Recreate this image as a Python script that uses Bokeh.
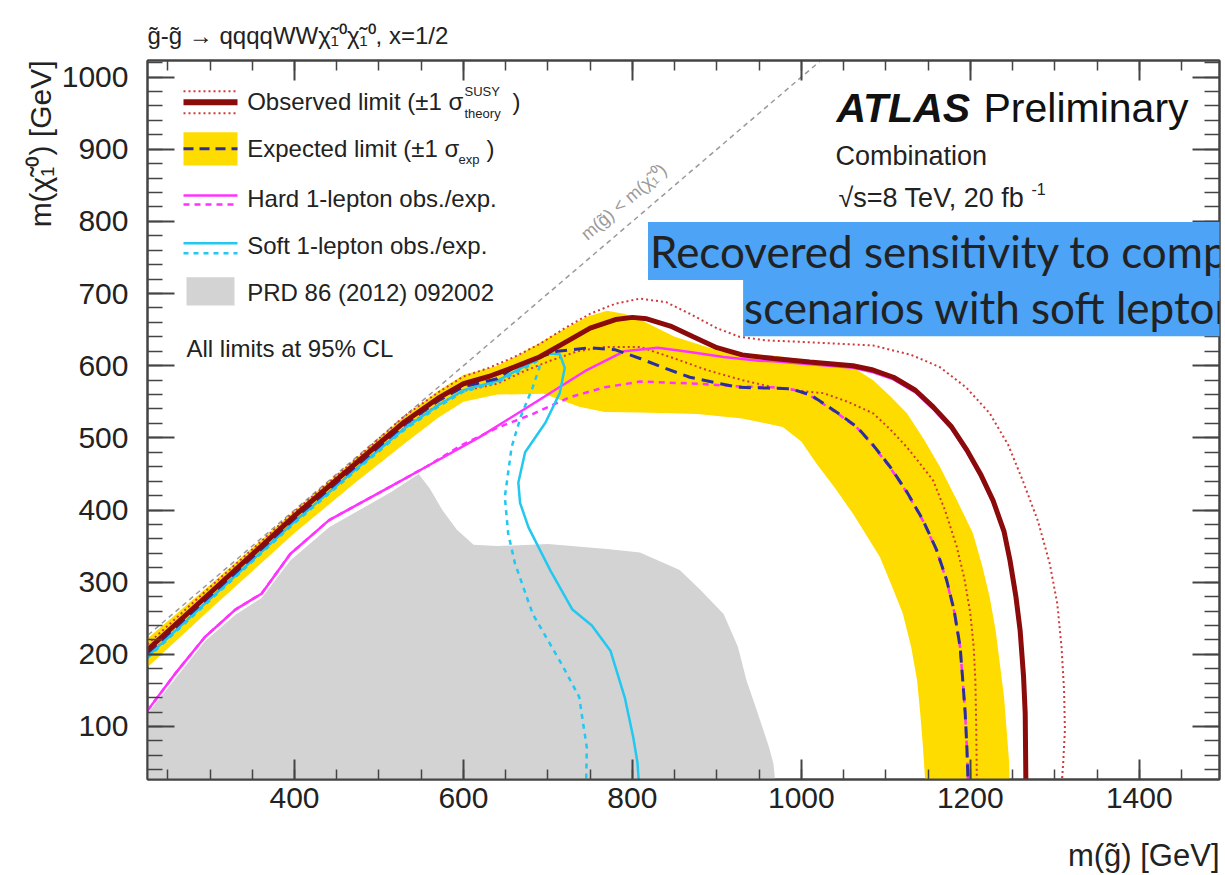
import math
from bokeh.plotting import figure
from bokeh.models import Range1d, SingleIntervalTicker, LinearAxis, Label, Title
from bokeh.embed import file_html
from bokeh.resources import INLINE

# ---------------- data (GeV) ----------------
obs_x = [226, 300, 400, 470, 530, 570, 600, 630, 660, 690, 720, 750, 780, 800, 817, 845, 872, 900, 930, 967,
         1010, 1061, 1085, 1109, 1135, 1156, 1178, 1196, 1212, 1227, 1240, 1247, 1254, 1259, 1263, 1265, 1266]
obs_y = [206, 285, 392, 462, 522, 555, 575, 585, 598, 612, 632, 652, 664, 667, 665, 655, 640, 625, 615, 610,
         605, 600, 594, 584, 566, 543, 515, 483, 450, 413, 370, 330, 280, 233, 170, 118, 0]

th_up_x = [226, 300, 400, 470, 530, 570, 600, 630, 660, 690, 720, 750, 780, 809, 840, 868, 900, 927, 959, 1000,
           1085, 1130, 1164, 1195, 1223, 1245, 1262, 1280, 1294, 1303, 1308, 1311, 1312, 1310, 1307]
th_up_y = [214, 293, 398, 468, 530, 563, 585, 597, 612, 630, 652, 672, 686, 693, 688, 672, 652, 640, 635, 633,
           628, 615, 598, 570, 534, 490, 441, 385, 326, 270, 210, 150, 95, 50, 0]

th_dn_x = [226, 300, 400, 470, 530, 570, 600, 640, 671, 703, 735, 767, 809, 850, 888, 930, 967, 1000, 1026, 1055,
           1085, 1105, 1125, 1140, 1156, 1170, 1184, 1193, 1200, 1204, 1206, 1207, 1208]
th_dn_y = [198, 277, 384, 454, 514, 546, 565, 575, 592, 607, 620, 626, 626, 610, 594, 580, 570, 565, 562, 550,
           534, 512, 487, 465, 441, 400, 349, 305, 257, 210, 164, 100, 0]

exp_x = [226, 300, 400, 470, 530, 570, 600, 640, 663, 690, 711, 750, 780, 809, 840, 868, 900, 927, 960, 987,
         1010, 1026, 1045, 1066, 1085, 1105, 1125, 1144, 1160, 1172, 1181, 1188, 1191, 1194, 1196, 1198]
exp_y = [202, 281, 388, 458, 518, 551, 571, 582, 600, 612, 620, 625, 622, 610, 596, 584, 576, 570, 569, 568,
         560, 548, 533, 515, 490, 460, 425, 386, 345, 303, 260, 210, 165, 118, 70, 0]

band_hi_x = [226, 300, 400, 470, 530, 570, 600, 640, 665, 703, 746, 770, 790, 809, 850, 907, 966, 1020, 1061, 1085,
             1105, 1125, 1145, 1164, 1184, 1203, 1214, 1223, 1230, 1235, 1240, 1243, 1246, 1247]
band_hi_y = [222, 296, 399, 469, 530, 565, 587, 600, 615, 640, 668, 676, 672, 664, 640, 619, 614, 606, 598, 580,
             558, 534, 498, 460, 414, 368, 323, 279, 233, 187, 140, 95, 50, 0]

band_lo_x = [226, 300, 400, 470, 530, 570, 600, 640, 695, 737, 767, 809, 877, 930, 978, 1000, 1018, 1040, 1061, 1077,
             1093, 1107, 1120, 1130, 1137, 1141, 1144, 1148]
band_lo_y = [182, 262, 368, 436, 492, 528, 550, 560, 561, 543, 536, 535, 533, 527, 515, 495, 464, 430, 395, 365,
             335, 295, 257, 210, 164, 115, 71, 0]

hard_obs_x = [226, 260, 294, 330, 361, 395, 441, 513, 556, 619, 682, 746, 790, 830, 868, 908, 950, 967, 1010, 1061,
              1085, 1109, 1135, 1156, 1178, 1196, 1212, 1227, 1240, 1247, 1254, 1259, 1263, 1265, 1266]
hard_obs_y = [122, 175, 224, 262, 284, 339, 386, 432, 460, 501, 547, 594, 620, 625, 619, 612, 607, 606, 602, 597,
              591, 581, 563, 540, 512, 480, 447, 410, 367, 327, 277, 230, 167, 115, 0]

hard_exp_x = [226, 260, 294, 330, 361, 395, 441, 513, 556, 598, 640, 682, 725, 767, 809, 877, 930, 967, 990, 1010,
              1026, 1045, 1066, 1085, 1105, 1125, 1144, 1160, 1172, 1181, 1188, 1191, 1194, 1196, 1198]
hard_exp_y = [122, 175, 224, 262, 284, 339, 386, 432, 460, 490, 514, 533, 556, 570, 578, 575, 571, 570, 567, 559,
              547, 532, 514, 489, 459, 424, 385, 344, 302, 259, 209, 164, 117, 69, 0]

soft_obs_x = [226, 300, 400, 470, 530, 570, 600, 640, 678, 700, 714, 720, 714, 697, 673, 665, 667, 677, 703, 729,
              752, 774, 791, 801, 806, 809]
soft_obs_y = [197, 277, 384, 454, 513, 545, 566, 579, 603, 617, 616, 597, 562, 521, 480, 438, 410, 376, 316, 262,
              240, 205, 140, 85, 50, 0]

soft_exp_x = [226, 300, 400, 470, 530, 570, 600, 640, 670, 688, 690, 682, 668, 657, 649, 653, 661, 682, 716, 737,
              746, 745]
soft_exp_y = [195, 275, 382, 452, 511, 543, 564, 577, 595, 607, 598, 570, 530, 487, 418, 367, 326, 256, 187, 141,
              71, 0]

prd_x = [226, 226, 260, 294, 330, 361, 395, 441, 513, 547, 560, 575, 592, 612, 640, 700, 770, 809, 856, 880,
         908, 925, 935, 945, 955, 962, 967, 971]
prd_y = [0, 118, 168, 218, 255, 278, 330, 376, 424, 450, 430, 400, 373, 352, 350, 353, 346, 341, 317, 290,
         256, 210, 164, 130, 95, 70, 48, 0]

diag_x = [0, 1100]
diag_y = [0, 1100]

x_ticks_interval = 200
y_ticks_interval = 100

# ---------------- layout ----------------
X0, X1 = 226.0, 1495.0
Y0, Y1 = 26.5, 1023.0
FL, FT, FW, FH = 147, 60, 1072, 719
FONT = "Liberation Sans"


def dx(px):
    return X0 + (px - FL) / FW * (X1 - X0)


def dy(py):
    return Y1 - (py - FT) / FH * (Y1 - Y0)


p = figure(frame_width=FW, frame_height=FH, x_range=Range1d(X0, X1), y_range=Range1d(Y0, Y1),
           output_backend="svg", toolbar_location=None,
           min_border_left=FL, min_border_right=6, min_border_top=FT, min_border_bottom=875 - FT - FH,
           x_axis_location=None, y_axis_location=None)
p.grid.visible = False
p.background_fill_color = "white"
p.border_fill_color = "white"
p.outline_line_color = "#444444"
p.outline_line_width = 2
p.title.text = ""

AX = "#444444"


def make_axis(side, interval, minor, major_in, minor_in, labels):
    ax = LinearAxis(ticker=SingleIntervalTicker(interval=interval, num_minor_ticks=minor))
    ax.major_tick_in = major_in
    ax.major_tick_out = 0
    ax.minor_tick_in = minor_in
    ax.minor_tick_out = 0
    ax.axis_line_color = AX
    ax.axis_line_width = 2
    ax.major_tick_line_color = AX
    ax.major_tick_line_width = 2
    ax.minor_tick_line_color = AX
    ax.minor_tick_line_width = 1.5
    if labels:
        ax.major_label_text_font = FONT
        ax.major_label_text_font_size = "30px"
        ax.major_label_text_color = "#222222"
        ax.major_label_standoff = 8 if side == "below" else 19
    else:
        ax.major_label_text_font_size = "1px"
        ax.major_label_text_color = None
        ax.major_label_standoff = 0
    p.add_layout(ax, side)


make_axis("below", x_ticks_interval, 4, 20, 10, True)
make_axis("above", x_ticks_interval, 4, 20, 10, False)
make_axis("left", y_ticks_interval, 5, 27, 15, True)
make_axis("right", y_ticks_interval, 5, 27, 15, False)

# titles placed in the side panels (not clipped by the frame)
p.add_layout(Title(text="g\u0303-g\u0303 \u2192 qqqqWW\u03c7\u0303\u2081\u2070\u03c7\u0303\u2081\u2070, x=1/2",
                   align="left", text_font=FONT, text_font_size="24px", text_font_style="normal",
                   text_color="#222222", standoff=24), "above")
p.add_layout(Title(text="m(\u03c7\u0303\u2081\u2070) [GeV]", align="right", text_font=FONT,
                   text_font_size="30px", text_font_style="normal", text_color="#222222", standoff=4), "left")
p.add_layout(Title(text="m(g\u0303) [GeV]", align="right", text_font=FONT,
                   text_font_size="31px", text_font_style="normal", text_color="#222222", standoff=50), "below")

# ---------------- colours ----------------
C_OBS = "#8b0b0b"
C_TH = "#d03a3a"
C_EXP = "#2b2f9e"
C_BAND = "#ffdc00"
C_HARD = "#ff33ff"
C_SOFT = "#22c8f0"
C_PRD = "#d3d3d3"

# ---------------- data glyphs ----------------
p.patch(prd_x, prd_y, fill_color=C_PRD, line_color=None)
p.patch(band_hi_x + band_lo_x[::-1], band_hi_y + band_lo_y[::-1], fill_color=C_BAND, line_color=None)
p.line(diag_x, diag_y, line_color="#9a9a9a", line_width=1.5, line_dash="5 4")
p.line(th_up_x, th_up_y, line_color=C_TH, line_width=2, line_dash="2 3")
p.line(th_dn_x, th_dn_y, line_color=C_TH, line_width=2, line_dash="2 3")
p.line(hard_exp_x, hard_exp_y, line_color=C_HARD, line_width=2.5, line_dash="6 5")
p.line(hard_obs_x, hard_obs_y, line_color=C_HARD, line_width=2.5)
p.line(soft_exp_x, soft_exp_y, line_color=C_SOFT, line_width=2.5, line_dash="5 5")
p.line(soft_obs_x, soft_obs_y, line_color=C_SOFT, line_width=2.5)
p.line(exp_x, exp_y, line_color=C_EXP, line_width=3, line_dash="12 7")
p.line(obs_x, obs_y, line_color=C_OBS, line_width=5)

# ---------------- legend (manual) ----------------
LX0, LX1 = 183, 237
p.line([dx(LX0), dx(LX1)], [dy(90.7)] * 2, line_color=C_TH, line_width=2, line_dash="2 3")
p.line([dx(LX0), dx(LX1)], [dy(112.7)] * 2, line_color=C_TH, line_width=2, line_dash="2 3")
p.line([dx(LX0), dx(LX1)], [dy(101.7)] * 2, line_color=C_OBS, line_width=6)
p.quad(left=[dx(LX0)], right=[dx(LX1)], top=[dy(131.7)], bottom=[dy(165)], fill_color=C_BAND, line_color=None)
p.line([dx(LX0), dx(LX1)], [dy(148.3)] * 2, line_color=C_EXP, line_width=3, line_dash="10 6")
p.line([dx(LX0), dx(LX1)], [dy(195)] * 2, line_color=C_HARD, line_width=2.5)
p.line([dx(LX0), dx(LX1)], [dy(204)] * 2, line_color=C_HARD, line_width=2.5, line_dash="6 5")
p.line([dx(LX0), dx(LX1)], [dy(242.7)] * 2, line_color=C_SOFT, line_width=2.5)
p.line([dx(LX0), dx(LX1)], [dy(252.7)] * 2, line_color=C_SOFT, line_width=2.5, line_dash="5 5")
p.quad(left=[dx(186)], right=[dx(234)], top=[dy(276.7)], bottom=[dy(305)], fill_color=C_PRD, line_color=None)


def L(px, py, text, size, color="#222222", align="left", baseline="middle", font=FONT, style="normal",
      angle=0.0, **kw):
    lab = Label(x=dx(px), y=dy(py), text=text, text_font=font, text_font_size=f"{size}px",
                text_color=color, text_align=align, text_baseline=baseline, text_font_style=style,
                angle=angle, **kw)
    p.add_layout(lab)
    return lab


LS = 24
L(246.7, 101, "Observed limit (\u00b11 \u03c3", LS)
L(464, 91, "SUSY", 13)
L(464, 113, "theory", 13)
L(512, 101, ")", LS)
L(246.7, 148, "Expected limit (\u00b11 \u03c3", LS)
L(458, 159, "exp", 13)
L(486, 148, ")", LS)
L(246.7, 198, "Hard 1-lepton obs./exp.", LS)
L(246.7, 245, "Soft 1-lepton obs./exp.", LS)
L(246.7, 291.7, "PRD 86 (2012) 092002", LS)
L(186, 348, "All limits at 95% CL", LS)

# ATLAS labels
L(836, 107, "ATLAS", 41, color="#111111", style="bold italic")
L(983, 107, "Preliminary", 41, color="#111111")
L(835, 155, "Combination", 27)
L(838, 197, "\u221as=8 TeV, 20 fb", 27)
L(1031, 188, "-1", 16)

# diagonal annotation
ang = math.atan2(0.7215, 0.8448)
L(583, 236, "m(g\u0303) < m(\u03c7\u0303\u2081\u2070)", 18, color="#9a9a9a", angle=ang)

# blue highlight box
L(647.5, 250.5, "Recovered sensitivity to compressed", 44, font="Lato",
  background_fill_color="#4da3f5", padding=dict(left=2, right=0, top=3, bottom=3))
L(742.6, 306.7, "scenarios with soft leptons", 44, font="Lato",
  background_fill_color="#4da3f5", padding=dict(left=1, right=0, top=3, bottom=3))

open("out.html", "w").write(file_html(p, INLINE))
